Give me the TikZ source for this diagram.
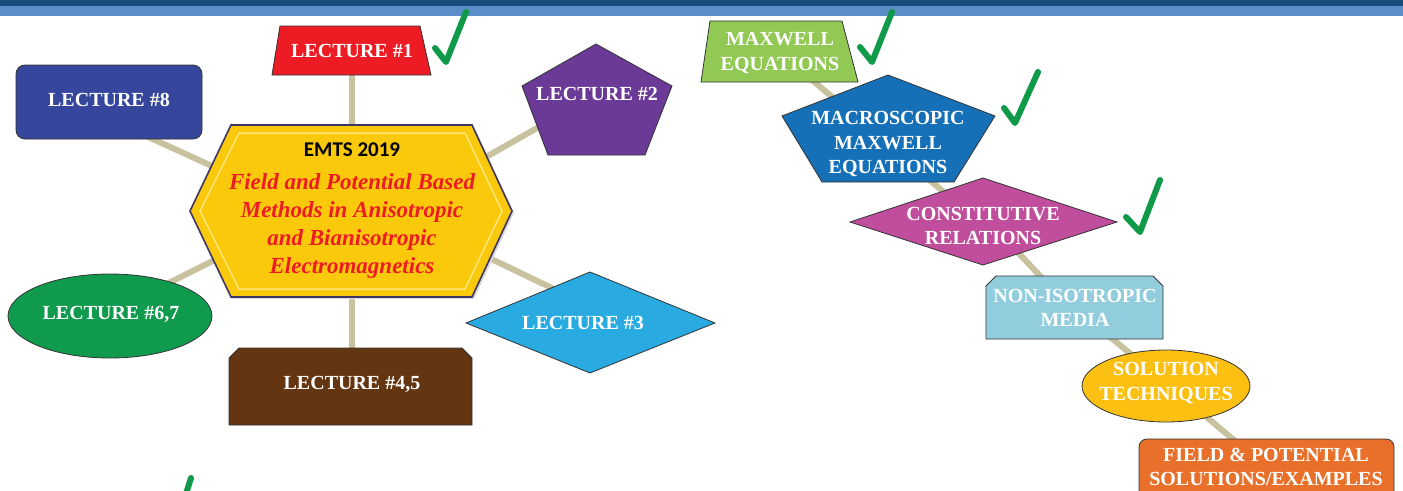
\documentclass[tikz,border=0pt]{standalone}
\usepackage{fontspec}
\setmainfont{Liberation Serif}
\newfontfamily\carlito{Carlito}
\usetikzlibrary{backgrounds}
\definecolor{bardark}{HTML}{1B4A7C}
\definecolor{barlight}{HTML}{5B8DC9}
\definecolor{tanc}{HTML}{C8C29E}
\definecolor{tickg}{HTML}{0E9A48}
\definecolor{cred}{HTML}{ED1C24}
\definecolor{cnavy}{HTML}{35469C}
\definecolor{cpurple}{HTML}{6B3A97}
\definecolor{chex}{HTML}{FBC90C}
\definecolor{chexedge}{HTML}{3E3564}
\definecolor{chexin}{HTML}{FFE57A}
\definecolor{csky}{HTML}{29ABE2}
\definecolor{cbrown}{HTML}{633511}
\definecolor{cgreen}{HTML}{0F9A4D}
\definecolor{clime}{HTML}{92C954}
\definecolor{cblue}{HTML}{1570B8}
\definecolor{cmag}{HTML}{C04E9D}
\definecolor{cpale}{HTML}{92CDDD}
\definecolor{cgold}{HTML}{FCC012}
\definecolor{corange}{HTML}{E8702A}
\begin{document}
\begin{tikzpicture}[x=1pt,y=-1pt,
  lbl/.style={text=white, font=\bfseries\fontsize{20}{24.5}\selectfont, align=center, inner sep=0pt},
  shp/.style={draw=black!80, line width=0.8pt},
  spoke/.style={line width=6pt, draw=tanc},
  tick/.style={line width=6pt, draw=tickg, line cap=round, line join=round}]
\useasboundingbox (0,0) rectangle (1403,490);
% top bar
\fill[bardark] (0,0) rectangle (1403,6);
\fill[barlight] (0,6) rectangle (1403,16);

% ---- left cluster ----
\fill[shp, fill=cred] (280,26) -- (420,26) -- (431,75) -- (272,75) -- cycle;
\node[lbl] (l1) at (352,51) {LECTURE \#1};

\draw[shp, fill=cnavy, rounded corners=9pt] (16,65) rectangle (202,139);
\node[lbl] (l8) at (109,100) {LECTURE \#8};

\draw[shp, fill=cpurple] (596,44) -- (672,86) -- (645,155) -- (548,155) -- (522,86) -- cycle;
\node[lbl] (l2) at (597,94) {LECTURE \#2};

\fill[black!15] (233,127) -- (474,127) -- (514,213) -- (474,299) -- (233,299) -- (192,213) -- cycle;
\draw[draw=chexedge, line width=1.6pt, fill=chex] (231,125) -- (472,125) -- (512,211) -- (472,297) -- (231,297) -- (190,211) -- cycle;
\draw[draw=chexin, line width=1.5pt] (239,133) -- (465,133) -- (502,211) -- (465,289) -- (239,289) -- (200,211) -- cycle;
\node[inner sep=0pt, font=\carlito\bfseries\fontsize{21}{24}\selectfont] (emts) at (352,150) {EMTS 2019};
\node[inner sep=0pt, align=center, text=cred, font=\bfseries\itshape\fontsize{23}{28}\selectfont] (hex) at (352,226)
  {Field and Potential Based\\Methods in Anisotropic\\and Bianisotropic\\Electromagnetics};
\coordinate (hexc) at (352,211);

\draw[shp, fill=csky] (466,323) -- (590,272) -- (715,323) -- (590,373) -- cycle;
\node[lbl] (l3) at (583,323) {LECTURE \#3};

\draw[shp, fill=cbrown] (229,425) -- (229,358) -- (239,348) -- (462,348) -- (472,358) -- (472,425) -- cycle;
\node[lbl] (l45) at (352,384) {LECTURE \#4,5};

\draw[shp, fill=cgreen] (110,316) ellipse [x radius=102, y radius=42];
\node[lbl] (l67) at (111,314) {LECTURE \#6,7};

% ---- right chain ----
\draw[shp, fill=clime] (710,21) -- (842,21) -- (858,82) -- (701,82) -- cycle;
\node[lbl] (mx) at (780,53) {MAXWELL\\EQUATIONS};

\draw[shp, fill=cblue] (888,75) -- (995,116) -- (954,182) -- (822,182) -- (782,116) -- cycle;
\node[lbl] (mac) at (888,144) {MACROSCOPIC\\MAXWELL\\EQUATIONS};

\draw[shp, fill=cmag] (850,222) -- (983,178) -- (1117,222) -- (983,265) -- cycle;
\node[lbl] (con) at (983,226) {CONSTITUTIVE\\RELATIONS};

\draw[shp, fill=cpale] (986,339) -- (986,286) -- (996,276) -- (1153,276) -- (1163,286) -- (1163,339) -- cycle;
\node[lbl] (non) at (1075,308) {NON-ISOTROPIC\\MEDIA};

\draw[shp, fill=cgold] (1166,386) ellipse [x radius=84, y radius=36];
\node[lbl] (sol) at (1166,383) {SOLUTION\\TECHNIQUES};

\draw[shp, fill=corange, rounded corners=8pt] (1139,439) rectangle (1394,505);
\node[lbl] (fld) at (1266,467) {FIELD \& POTENTIAL\\SOLUTIONS/EXAMPLES};

% ---- connectors behind ----
\begin{scope}[on background layer]
\fill[white] (0,16) rectangle (1403,490);
\draw[spoke] (l1.center) -- (hexc);
\draw[spoke] ([yshift=-19pt]l8.center) -- ([yshift=-19pt]hexc);
\draw[spoke] (l2.center) -- ([yshift=-22pt]hexc);
\draw[spoke] ([yshift=19pt]hexc) -- ([yshift=20pt]l3.center);
\draw[spoke] (hexc) -- (l45.center);
\draw[spoke] ([yshift=2pt]l67.center) -- ([yshift=20pt]hexc);
\draw[spoke] (mx.center) -- (mac.center);
\draw[spoke] (mac.center) -- (con.center);
\draw[spoke] ([xshift=10pt]con.center) -- ([yshift=-5pt]non.center);
\draw[spoke] (non.center) -- (sol.center);
\draw[spoke] (sol.center) -- (fld.center);
\end{scope}

% ---- check marks ----
\draw[tick] (435,48) -- (446,62) -- (466,12);
\draw[tick] (860,47) -- (872,62) -- (892,12);
\draw[tick] (1004,108) -- (1015,123) -- (1038,72);
\draw[tick] (1126,217) -- (1140,232) -- (1160,180);
\begin{scope}
\clip (0,0) rectangle (1403,490);
\draw[tick] (191,478) -- (184,500);
\end{scope}
\end{tikzpicture}
\end{document}
